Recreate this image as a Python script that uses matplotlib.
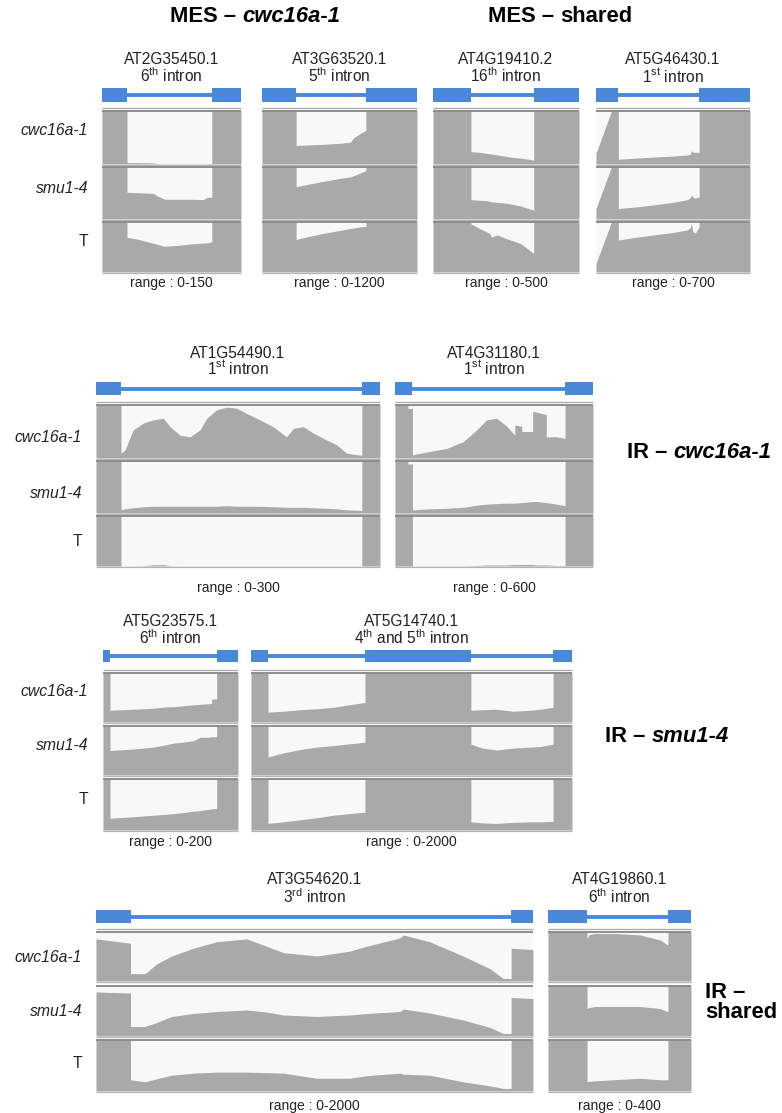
import numpy as np
import matplotlib
matplotlib.use('Agg')
import matplotlib.pyplot as plt

plt.rcParams['font.family'] = ['Liberation Sans', 'DejaVu Sans']
plt.rcParams['mathtext.fontset'] = 'custom'
plt.rcParams['mathtext.rm'] = 'Liberation Sans'
plt.rcParams['mathtext.it'] = 'Liberation Sans:italic'
plt.rcParams['mathtext.bf'] = 'Liberation Sans:bold'

# ------------------------------------------------------------------ data
TRACK_NAMES = ['cwc16a-1', 'smu1-4', 'T']

# positions are relative along each displayed locus (0-100); coverage in reads
P1_GENE, P1_INTRON, P1_RANGE = 'AT2G35450.1', '6$^{\\mathrm{th}}$ intron', 150
P1_EXONS = [(0, 18), (79, 100)]
P1_POS = [0, 18, 18, 25, 37, 40, 45, 55, 63, 73, 75, 79, 79, 100]
P1_CWC = [150, 150, 4, 4, 3, 1, 1, 1, 1, 1, 1, 1, 150, 150]
P1_SMU = [150, 150, 77, 76, 74, 66, 57, 57, 57, 56, 62, 63, 150, 150]
P1_T = [150, 150, 104, 99, 86, 83, 77, 80, 84, 87, 87, 90, 150, 150]

P2_GENE, P2_INTRON, P2_RANGE = 'AT3G63520.1', '5$^{\\mathrm{th}}$ intron', 1200
P2_EXONS = [(0, 22), (67, 100)]
P2_POS = [0, 22, 22, 30, 39, 50, 57, 59, 63, 66, 67, 67, 100]
P2_CWC = [1200, 1200, 420, 432, 444, 468, 492, 588, 684, 744, 756, 1200, 1200]
P2_SMU = [1200, 1200, 744, 804, 864, 936, 972, 996, 1056, 1104, 1116, 1200, 1200]
P2_T = [1200, 1200, 780, 852, 924, 996, 1044, 1056, 1080, 1092, 1092, 1200, 1200]

P3_GENE, P3_INTRON, P3_RANGE = 'AT4G19410.2', '16$^{\\mathrm{th}}$ intron', 500
P3_EXONS = [(0, 26), (69, 100)]
P3_POS = [0, 26, 26, 32, 37, 39, 40, 44, 51, 53, 60, 69, 69, 100]
P3_CWC = [500, 500, 115, 110, 100, 95, 95, 85, 70, 65, 55, 38, 500, 500]
P3_SMU = [500, 500, 185, 180, 175, 170, 165, 160, 150, 145, 125, 85, 500, 500]
P3_T = [500, 500, 480, 435, 400, 385, 350, 370, 330, 320, 285, 185, 500, 500]

P4_GENE, P4_INTRON, P4_RANGE = 'AT5G46430.1', '1$^{\\mathrm{st}}$ intron', 700
P4_EXONS = [(0, 14.5), (67, 100)]
P4_POS = [0, 10, 14.5, 14.5, 25, 37, 50, 59, 61, 62, 63, 64.5, 66.5, 67, 67, 100]
P4_CWC = [140, 700, 700, 63, 77, 91, 105, 119, 126, 175, 154, 154, 154, 154, 700, 700]
P4_SMU = [140, 700, 700, 140, 161, 189, 224, 259, 280, 322, 294, 280, 294, 294, 700, 700]
P4_T = [119, 700, 700, 448, 483, 518, 553, 588, 616, 672, 560, 546, 616, 630, 700, 700]

P5_GENE, P5_INTRON, P5_RANGE = 'AT1G54490.1', '1$^{\\mathrm{st}}$ intron', 300
P5_EXONS = [(0, 8.8), (93.6, 100)]
P5_POS = [0, 8.8, 8.8, 10.2, 13.1, 16.7, 20.2, 23.7, 26.1, 29.6, 33.1, 36.6, 39.0, 42.5,
          46.0, 49.5, 53.1, 57.7, 62.4, 67.1, 69.5, 73.0, 76.5, 81.2, 84.7, 88.3, 93.6, 93.6, 100]
P5_CWC = [300, 300, 27, 45, 159, 198, 216, 225, 177, 129, 120, 159, 225, 273, 288, 282, 252,
          216, 177, 120, 168, 177, 141, 102, 75, 27, 15, 300, 300]
P5_SMU = [300, 300, 18, 24, 30, 36, 39, 39, 39, 39, 39, 39, 39, 39, 42, 39, 39, 39, 36, 33,
          33, 33, 30, 27, 24, 18, 15, 300, 300]
P5_T = [300, 300, 1, 1, 1, 2, 8, 8, 2, 1, 1, 1, 1, 1, 1, 1, 1, 1, 1, 1, 1, 1, 1, 1, 1, 1, 1,
        300, 300]

P6_GENE, P6_INTRON, P6_RANGE = 'AT4G31180.1', '1$^{\\mathrm{st}}$ intron', 600
P6_EXONS = [(0, 8.8), (85.9, 100)]
P6_POS = [0, 6.5, 6.5, 8.8, 8.8, 17, 26, 34.5, 41.2, 46.3, 51.3, 56.4, 60.5, 60.5, 64, 64,
          69.5, 69.5, 72, 76.4, 76.4, 81.6, 85.9, 85.9, 100]
P6_CWC = [600, 600, 560, 560, 36, 72, 108, 186, 318, 432, 450, 360, 258, 372, 360, 300, 300,
          528, 516, 492, 240, 240, 222, 600, 600]
P6_SMU = [600, 600, 565, 565, 36, 48, 54, 66, 90, 102, 108, 114, 114, 114, 120, 120, 132,
          132, 132, 120, 120, 102, 84, 600, 600]
P6_T = [600, 600, 600, 600, 3, 3, 3, 3, 6, 12, 12, 12, 18, 18, 18, 18, 18, 18, 12, 12, 12,
        6, 6, 600, 600]

P7_GENE, P7_INTRON, P7_RANGE = 'AT5G23575.1', '6$^{\\mathrm{th}}$ intron', 200
P7_EXONS = [(0, 5.2), (84.2, 100)]
P7_POS = [0, 5.2, 5.2, 22.5, 37.3, 47.2, 52, 62, 66.9, 71.9, 76.8, 80.5, 80.5, 84.2, 84.2, 100]
P7_CWC = [200, 200, 48, 52, 56, 62, 62, 68, 70, 72, 74, 76, 94, 94, 200, 200]
P7_SMU = [200, 200, 100, 106, 114, 124, 130, 136, 140, 154, 154, 156, 156, 156, 200, 200]
P7_T = [200, 200, 46, 52, 58, 62, 64, 70, 74, 76, 80, 82, 84, 84, 200, 200]

P8_GENE, P8_INTRON, P8_RANGE = ('AT5G14740.1',
                                '4$^{\\mathrm{th}}$ and 5$^{\\mathrm{th}}$ intron', 2000)
P8_EXONS = [(0, 5.3), (35.5, 68.5), (94.1, 100)]
P8_POS = [0, 5.3, 5.3, 10, 15.3, 20.5, 25.6, 35.5, 35.5, 68.5, 68.5, 72, 76.5, 81.7, 87, 90,
          94.1, 94.1, 100]
P8_CWC = [2000, 2000, 400, 440, 500, 540, 600, 800, 2000, 2000, 480, 500, 520, 440, 480, 520,
          600, 2000, 2000]
P8_SMU = [2000, 2000, 740, 900, 1040, 1140, 1200, 1340, 2000, 2000, 1260, 1100, 1020, 1100,
          1140, 1160, 1260, 2000, 2000]
P8_T = [2000, 2000, 260, 320, 400, 480, 580, 700, 2000, 2000, 320, 280, 260, 300, 320, 320,
        340, 2000, 2000]

P9_GENE, P9_INTRON, P9_RANGE = 'AT3G54620.1', '3$^{\\mathrm{rd}}$ intron', 2000
P9_EXONS = [(0, 7.9), (95, 100)]
P9_POS = [0, 7.9, 7.9, 11.2, 13.9, 17.3, 22.3, 27.6, 34.5, 39, 42.9, 50.5, 58.1, 61.9, 69.6,
          70.3, 76.4, 84, 90.2, 93.2, 95, 95, 100]
P9_CWC = [1720, 1540, 300, 300, 700, 1020, 1340, 1600, 1720, 1420, 1160, 1020, 1220, 1420,
          1760, 1880, 1600, 1020, 500, 100, 100, 1340, 1280]
P9_SMU = [1760, 1720, 380, 380, 540, 780, 900, 980, 1040, 960, 840, 780, 840, 900, 980, 1080,
          920, 640, 340, 100, 100, 1540, 1500]
P9_T = [2000, 2000, 440, 360, 480, 620, 700, 740, 740, 720, 700, 500, 500, 600, 700, 660, 620,
        360, 200, 100, 100, 2000, 2000]

P10_GENE, P10_INTRON, P10_RANGE = 'AT4G19860.1', '6$^{\\mathrm{th}}$ intron', 400
P10_EXONS = [(0, 27.3), (83.9, 100)]
P10_POS = [0, 27.3, 27.3, 29, 33, 45.7, 64.3, 78.3, 83.4, 83.9, 83.9, 100]
P10_CWC = [400, 400, 348, 380, 388, 388, 376, 336, 296, 296, 400, 400]
P10_SMU = [400, 400, 220, 228, 236, 236, 236, 220, 196, 196, 400, 400]
P10_T = [400, 400, 72, 76, 80, 88, 100, 88, 88, 88, 400, 400]

# ------------------------------------------------------------------ layout (pixels)
W, H = 782, 1113
BLUE = '#4a88d9'
FILL = '#a9a9a9'
BG = '#f8f8f8'

SECTIONS = {
    'mes': dict(title_y=(59, 76), gene_y=(88, 102),
                tracks=[(111, 164), (167, 219), (222, 272)], range_y=283,
                label_x=88, label_y=[131, 188, 241]),
    'ir1': dict(title_y=(353, 368), gene_y=(382, 395),
                tracks=[(405, 458), (461, 513), (516, 566)], range_y=588,
                label_x=82, label_y=[437, 493, 542]),
    'ir2': dict(title_y=(622, 638), gene_y=(650, 662),
                tracks=[(673, 722), (726, 775), (779, 830)], range_y=842,
                label_x=88, label_y=[692, 745, 800]),
    'ir3': dict(title_y=(879, 897), gene_y=(910, 923),
                tracks=[(932, 981), (986, 1036), (1040, 1091)], range_y=1106,
                label_x=82, label_y=[958, 1012, 1064]),
}

PANELS = [
    ('mes', 102, 241, P1_GENE, P1_INTRON, P1_RANGE, P1_EXONS, P1_POS, [P1_CWC, P1_SMU, P1_T]),
    ('mes', 262, 417, P2_GENE, P2_INTRON, P2_RANGE, P2_EXONS, P2_POS, [P2_CWC, P2_SMU, P2_T]),
    ('mes', 433, 579, P3_GENE, P3_INTRON, P3_RANGE, P3_EXONS, P3_POS, [P3_CWC, P3_SMU, P3_T]),
    ('mes', 596, 750, P4_GENE, P4_INTRON, P4_RANGE, P4_EXONS, P4_POS, [P4_CWC, P4_SMU, P4_T]),
    ('ir1', 96, 380, P5_GENE, P5_INTRON, P5_RANGE, P5_EXONS, P5_POS, [P5_CWC, P5_SMU, P5_T]),
    ('ir1', 395, 593, P6_GENE, P6_INTRON, P6_RANGE, P6_EXONS, P6_POS, [P6_CWC, P6_SMU, P6_T]),
    ('ir2', 103, 238, P7_GENE, P7_INTRON, P7_RANGE, P7_EXONS, P7_POS, [P7_CWC, P7_SMU, P7_T]),
    ('ir2', 251, 572, P8_GENE, P8_INTRON, P8_RANGE, P8_EXONS, P8_POS, [P8_CWC, P8_SMU, P8_T]),
    ('ir3', 96, 533, P9_GENE, P9_INTRON, P9_RANGE, P9_EXONS, P9_POS, [P9_CWC, P9_SMU, P9_T]),
    ('ir3', 548, 691, P10_GENE, P10_INTRON, P10_RANGE, P10_EXONS, P10_POS,
     [P10_CWC, P10_SMU, P10_T]),
]

fig = plt.figure(figsize=(W / 100, H / 100), dpi=100)
fig.patch.set_facecolor('white')


def fx(px):
    return px / W


def fy(py):
    return 1 - py / H


def add_ax(x0, x1, top, bottom):
    return fig.add_axes([fx(x0), fy(bottom), (x1 - x0) / W, (bottom - top) / H])


def draw_gene(ax, exons):
    ax.set_xlim(0, 100)
    ax.set_ylim(0, 1)
    ax.axis('off')
    ax.broken_barh([(s, e - s) for s, e in exons], (0, 1), color=BLUE, lw=0)
    for (s0, e0), (s1, e1) in zip(exons[:-1], exons[1:]):
        ax.hlines(0.5, e0, s1, color=BLUE, lw=2.8)


def draw_track(ax, pos, cov, rng, h_px, first, last):
    ax.set_facecolor(BG)
    y = np.minimum(np.asarray(cov, float), rng)
    ax.fill_between(pos, 0, y, color=FILL, lw=0)
    ax.set_xlim(0, 100)
    ax.set_ylim(0, rng)
    ax.set_xticks([])
    ax.set_yticks([])
    for s in ax.spines.values():
        s.set_visible(False)
    ax.plot([0, 1], [1, 1], transform=ax.transAxes, color='#858585', lw=1.3,
            clip_on=False, solid_capstyle='butt')
    ax.plot([0, 1], [-1.2 / h_px] * 2, transform=ax.transAxes, color='#b4b4b4', lw=0.9,
            clip_on=False, solid_capstyle='butt')
    if first:
        ax.plot([0, 1], [1 + 3.2 / h_px] * 2, transform=ax.transAxes, color='#a8a8a8',
                lw=0.9, clip_on=False, solid_capstyle='butt')


for sec, x0, x1, gene, intron, rng, exons, pos, covs in PANELS:
    L = SECTIONS[sec]
    xc = (x0 + x1) / 2
    fig.text(fx(xc), fy(L['title_y'][0]), gene, ha='center', va='center', fontsize=11.2,
             color='#222222')
    fig.text(fx(xc), fy(L['title_y'][1]), intron, ha='center', va='center', fontsize=11.2,
             color='#222222')
    gax = add_ax(x0, x1, L['gene_y'][0], L['gene_y'][1])
    draw_gene(gax, exons)
    for i, (cov, (t, b)) in enumerate(zip(covs, L['tracks'])):
        tax = add_ax(x0, x1, t, b)
        draw_track(tax, pos, cov, rng, b - t, i == 0, i == 2)
    fig.text(fx(xc), fy(L['range_y']), f'range : 0-{rng}', ha='center', va='center',
             fontsize=10, color='#222222')

for key, L in SECTIONS.items():
    for name, ly in zip(TRACK_NAMES, L['label_y']):
        fig.text(fx(L['label_x']), fy(ly), name, ha='right', va='center', fontsize=11.3,
                 fontstyle='normal' if name == 'T' else 'italic', color='#222222')

renderer = fig.canvas.get_renderer()


def mixed(x_px, y_px, parts, size, ha='center'):
    texts, widths = [], []
    gap = size * 100 / 72 * 0.28
    for s, style in parts:
        t = fig.text(0, 0, s, fontsize=size, fontweight='bold', fontstyle=style,
                     va='center', ha='left', color='black')
        texts.append(t)
        widths.append(t.get_window_extent(renderer).width)
    total = sum(widths) + gap * (len(parts) - 1)
    start = x_px - total / 2 if ha == 'center' else x_px
    for t, w in zip(texts, widths):
        t.set_position((fx(start), fy(y_px)))
        start += w + gap


HEAD = 15.8
mixed(255, 17, [('MES –', 'normal'), ('cwc16a-1', 'italic')], HEAD)
mixed(560, 17, [('MES –', 'normal'), ('shared', 'normal')], HEAD)
mixed(627, 453, [('IR –', 'normal'), ('cwc16a-1', 'italic')], HEAD, ha='left')
mixed(605, 737, [('IR –', 'normal'), ('smu1-4', 'italic')], HEAD, ha='left')
mixed(705, 993, [('IR –', 'normal')], HEAD, ha='left')
mixed(705, 1013, [('shared', 'normal')], HEAD, ha='left')

fig.savefig('out.png', dpi=100, facecolor='white')
